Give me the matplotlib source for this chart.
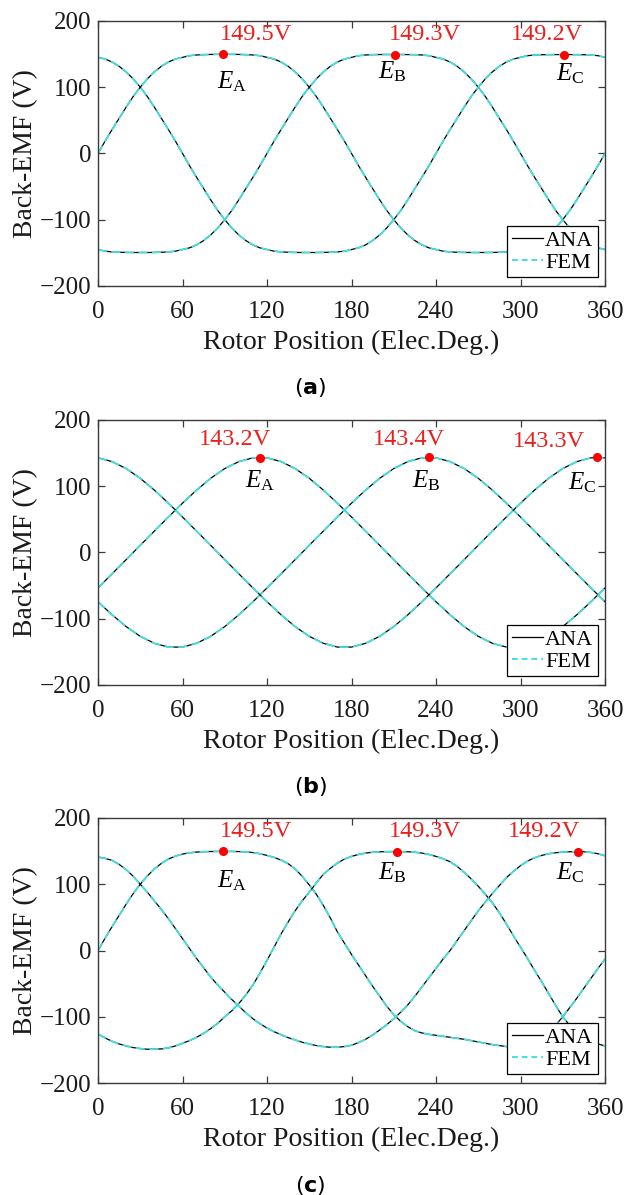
import numpy as np
import matplotlib
matplotlib.use("Agg")
import matplotlib.pyplot as plt
from matplotlib.lines import Line2D

plt.rcParams['font.family'] = ['Liberation Serif', 'DejaVu Serif']
plt.rcParams['mathtext.fontset'] = 'custom'
plt.rcParams['mathtext.rm'] = 'Liberation Serif'
plt.rcParams['mathtext.it'] = 'Liberation Serif:italic'
plt.rcParams['mathtext.bf'] = 'DejaVu Sans:bold'

# rotor position, elec. deg
theta5 = list(range(0, 361, 5))
theta10 = list(range(0, 361, 10))

# (a) back-EMF, V (5 deg steps)
a_ea = [0, 18.5, 36, 53, 70, 86, 100, 112.5, 123, 131.5, 138, 142.5, 145, 147.5, 148.6, 149.1, 149.4, 149.5,
        149.5, 149.5, 149.4, 149.1, 148.6, 147.5, 145, 142.5, 138, 131.5, 123, 112.5, 100, 86, 70, 53, 36, 18.5,
        0, -18.5, -36, -53, -70, -86, -100, -112.5, -123, -131.5, -138, -142.5, -145, -147.5, -148.6, -149.1,
        -149.4, -149.5, -149.5, -149.5, -149.4, -149.1, -148.6, -147.5, -145, -142.5, -138, -131.5, -123,
        -112.5, -100, -86, -70, -53, -36, -18.5, 0]
a_eb = [-145, -147.5, -148.6, -149.1, -149.4, -149.5, -149.5, -149.5, -149.4, -149.1, -148.6, -147.5, -145,
        -142.5, -138, -131.5, -123, -112.5, -100, -86, -70, -53, -36, -18.5, 0, 18.5, 36, 53, 70, 86, 100, 112.5,
        123, 131.5, 138, 142.5, 145, 147.5, 148.6, 149.1, 149.3, 149.3, 149.3, 149.3, 149.2, 149.1, 148.6, 147.5,
        145, 142.5, 138, 131.5, 123, 112.5, 100, 86, 70, 53, 36, 18.5, 0, -18.5, -36, -53, -70, -86, -100,
        -112.5, -123, -131.5, -138, -142.5, -145]
a_ec = [145, 142.5, 138, 131.5, 123, 112.5, 100, 86, 70, 53, 36, 18.5, 0, -18.5, -36, -53, -70, -86, -100,
        -112.5, -123, -131.5, -138, -142.5, -145, -147.5, -148.6, -149.1, -149.4, -149.5, -149.5, -149.5, -149.4,
        -149.1, -148.6, -147.5, -145, -142.5, -138, -131.5, -123, -112.5, -100, -86, -70, -53, -36, -18.5, 0,
        18.5, 36, 53, 70, 86, 100, 112.5, 123, 131.5, 138, 142.5, 145, 147.5, 148.6, 149, 149.1, 149.2, 149.2,
        149.2, 149.1, 149, 148.6, 147.5, 145]

# (b) back-EMF, V (10 deg steps)
b_ea = [-53.5, -32.2, -10.8, 10.8, 32.2, 53.5, 74.4, 94.1, 111.9, 126.6, 137.1, 142.8, 142.8, 137.1, 126.6, 111.9,
        94.1, 74.4, 53.5, 32.2, 10.8, -10.8, -32.2, -53.5, -74.4, -94.1, -111.9, -126.6, -137.1, -142.8, -142.8,
        -137.1, -126.6, -111.9, -94.1, -74.4, -53.5]
b_eb = [-74.4, -94.1, -111.9, -126.6, -137.1, -142.8, -142.8, -137.1, -126.6, -111.9, -94.1, -74.4, -53.5, -32.2,
        -10.8, 10.8, 32.2, 53.5, 74.4, 94.1, 111.9, 126.6, 137.1, 142.8, 142.8, 137.1, 126.6, 111.9, 94.1, 74.4,
        53.5, 32.2, 10.8, -10.8, -32.2, -53.5, -74.4]
b_ec = [142.8, 137.1, 126.6, 111.9, 94.1, 74.4, 53.5, 32.2, 10.8, -10.8, -32.2, -53.5, -74.4, -94.1, -111.9,
        -126.6, -137.1, -142.8, -142.8, -137.1, -126.6, -111.9, -94.1, -74.4, -53.5, -32.2, -10.8, 10.8, 32.2,
        53.5, 74.4, 94.1, 111.9, 126.6, 137.1, 142.8, 142.8]

# (c) back-EMF, V (5 deg steps)
c_ea = [0, 18.5, 36, 53, 70, 86, 100, 112.5, 123, 131.5, 138, 142.5, 145.5, 147.5, 148.6, 149.1, 149.4, 149.5,
        149.5, 149.5, 149.3, 148.8, 147.8, 146, 143.5, 140.5, 136.5, 131, 123, 112, 99, 85, 68, 49, 28, 11, -6,
        -22, -38, -54, -69, -84, -97, -107, -115, -121, -124.5, -126.5, -128, -129.5, -131, -132.5, -134, -136,
        -138, -140, -142, -143.5, -145, -145.5, -145, -142.5, -138, -131.5, -123, -112.5, -100, -86, -72, -57,
        -42, -27, -13]
c_eb = [-126, -132, -137, -141, -144, -146.5, -148, -149, -149, -148.5, -147, -144, -140, -136, -131, -125, -118,
        -110, -100, -91, -80, -67, -52, -34, -15, 5, 25, 43, 60, 75, 88, 102, 115, 124, 132, 138, 142, 145, 147,
        148.3, 149, 149.2, 149.3, 149.2, 149, 148.3, 147, 145, 142, 138.5, 134, 127, 118, 108, 97, 85, 72, 57,
        40, 22, 5, -12, -30, -47, -65, -83, -100, -113, -123, -131, -137, -141, -144]
c_ec = [141, 139, 136, 130, 122, 112, 100, 88, 75, 62, 48, 33, 18, 3, -12, -26, -40, -52, -63, -74, -84, -94,
        -103, -110.5, -117, -122.5, -127, -131.5, -135, -138.5, -141, -143.5, -145, -146, -146, -145, -143, -139,
        -134, -127.5, -120, -112, -103, -93, -82, -69, -55, -41, -27, -13, 0, 15, 30, 45, 60, 73, 86, 98, 110,
        119.5, 128, 135, 140, 143.5, 146, 147.5, 148.5, 149, 149.2, 149, 148, 146, 143]

# peak markers
a_peak_x = [89, 211, 331]
a_peak_y = [149.5, 149.3, 149.2]
b_peak_x = [115, 235, 354]
b_peak_y = [143.2, 143.4, 143.3]
c_peak_x = [89, 212, 341]
c_peak_y = [149.5, 149.3, 149.2]
phase_names = ['A', 'B', 'C']

panels = [
    dict(x=theta5, curves=[a_ea, a_eb, a_ec], px=a_peak_x, py=a_peak_y,
         val_xy=[(112, 180), (232, 180), (319, 180)], e_xy=[(95, 109), (209, 124), (335, 120)],
         tag='a', bottom=0.7607),
    dict(x=theta10, curves=[b_ea, b_eb, b_ec], px=b_peak_x, py=b_peak_y,
         val_xy=[(97, 171), (221, 171), (320, 168)], e_xy=[(115, 108), (233, 108), (344, 106)],
         tag='b', bottom=0.4268),
    dict(x=theta5, curves=[c_ea, c_eb, c_ec], px=c_peak_x, py=c_peak_y,
         val_xy=[(112, 179), (232, 179), (317, 179)], e_xy=[(95, 105), (209, 118), (335, 117)],
         tag='c', bottom=0.0937),
]

fig = plt.figure(figsize=(6.25, 11.95), dpi=100)
spine_col = '#3a3a3a'
fem_col = '#45dfe0'

for p in panels:
    ax = fig.add_axes([0.1568, p['bottom'], 0.8112, 0.2218])
    for y in p['curves']:
        ax.plot(p['x'], y, color='black', lw=0.9)
        ax.plot(p['x'], y, color=fem_col, lw=1.3, linestyle=(0, (5, 2.5)))
    ax.plot(p['px'], p['py'], 'o', color='red', ms=5.5, zorder=5)
    for (vx, vy), v in zip(p['val_xy'], p['py']):
        ax.text(vx, vy, '%.1fV' % v, color='#e8201e', fontsize=17.5, ha='center', va='center')
    for (ex, ey), n in zip(p['e_xy'], phase_names):
        ax.text(ex, ey, r'$E_{\mathrm{%s}}$' % n, fontsize=18, ha='center', va='center')

    ax.set_xlim(0, 360)
    ax.set_ylim(-200, 200)
    ax.set_xticks([0, 60, 120, 180, 240, 300, 360])
    ax.set_yticks([-200, -100, 0, 100, 200])
    ax.tick_params(direction='in', top=True, right=True, length=5, width=0.9,
                   color=spine_col, labelsize=18, labelcolor='#1a1a1a')
    ax.tick_params(axis='x', pad=10.5)
    ax.tick_params(axis='y', pad=5)
    for s in ax.spines.values():
        s.set_color(spine_col)
        s.set_linewidth(1.0)
    ax.set_xlabel('Rotor Position (Elec.Deg.)', fontsize=20, labelpad=5, family='Liberation Serif',
                  color='#1a1a1a')
    ax.set_ylabel('Back-EMF (V)', fontsize=20, labelpad=1, family='Liberation Serif', color='#1a1a1a')

    handles = [Line2D([], [], color='black', lw=0.9),
               Line2D([], [], color=fem_col, lw=1.4, linestyle=(0, (3, 2)))]
    leg = ax.legend(handles, ['ANA', 'FEM'], loc='lower right', bbox_to_anchor=(0.986, 0.034),
                    borderaxespad=0, fontsize=16, frameon=True, fancybox=False,
                    handlelength=1.4, handletextpad=0.1, labelspacing=0.05, borderpad=0.2)
    leg.get_frame().set_edgecolor('black')
    leg.get_frame().set_linewidth(0.9)
    leg.get_frame().set_alpha(1)

    ypos = p['bottom'] - (388 - 286) / 1195
    fig.text(0.497, ypos, r'($\mathbf{%s}$)' % p['tag'], fontsize=16, family='DejaVu Sans',
             ha='center', va='center')

fig.savefig('out.png', dpi=100)
